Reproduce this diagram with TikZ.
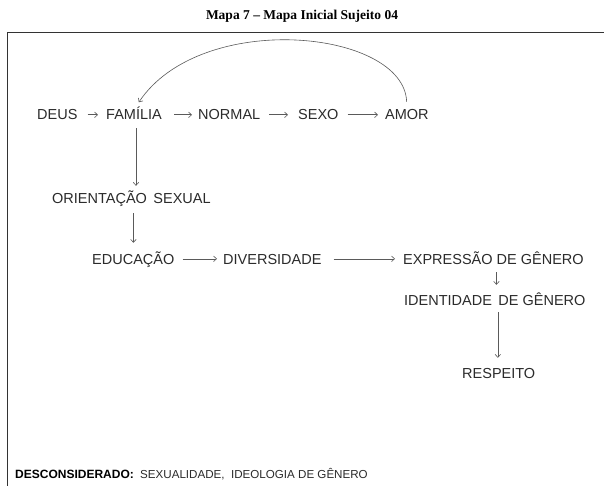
\documentclass[tikz,border=0pt]{standalone}
\usepackage{fontspec}
\setmainfont{Liberation Serif}
\newfontfamily\arialf{Liberation Sans}
\usetikzlibrary{arrows.meta}
\definecolor{txt}{HTML}{2B2B2B}
\definecolor{arrc}{HTML}{5A5A5A}
\definecolor{framec}{HTML}{333333}
\begin{document}
\begin{tikzpicture}[x=1pt,y=-1pt,
  lbl/.style={font=\arialf\fontsize{14.5}{16}\selectfont, text=txt, inner sep=0pt,
    text height=10.4pt, text depth=0pt, anchor=base west},
  conn/.style={draw=arrc, line width=0.6pt, -{Straight Barb[length=3pt,width=5.5pt]}},
  ttl/.style={font=\bfseries\fontsize{13.5}{15}\selectfont, text=black, inner sep=0pt, anchor=base},
  foot/.style={font=\arialf\bfseries\fontsize{12}{14}\selectfont, text=black, inner sep=0pt, anchor=base west},
  footr/.style={font=\arialf\fontsize{11.6}{14}\selectfont, text=txt, inner sep=0pt, anchor=base west}
]
\useasboundingbox (0,0) rectangle (604,486);
\fill[white] (0,0) rectangle (604,486);
% title
\node[ttl] (title) at (302,20) {Mapa 7 – Mapa Inicial Sujeito 04};
% frame
\draw[draw=framec, line width=1.3pt] (7.5,486) -- (7.5,32.5) -- (604,32.5);
% row 1
\node[lbl] (deus) at (37,120) {DEUS};
\node[lbl] (fam) at (106,120) {FAMÍLIA};
\node[lbl] (norm) at (198,120) {NORMAL};
\node[lbl] (sexo) at (298,120) {SEXO};
\node[lbl] (amor) at (385,120) {AMOR};
\node[lbl] (ori) at (52,204) {ORIENTAÇÃO\ \,SEXUAL};
\node[lbl] (edu) at (92,264) {EDUCAÇÃO};
\node[lbl] (div) at (223,264) {DIVERSIDADE};
\node[lbl] (exp) at (403,264) {EXPRESSÃO DE GÊNERO};
\node[lbl] (ide) at (404,305) {IDENTIDADE\ \,DE GÊNERO};
\node[lbl] (res) at (462,378) {RESPEITO};
% footer
\node[foot] (des) at (15,478) {DESCONSIDERADO:};
\node[footr] (sex) at (140,478) {SEXUALIDADE,\ \ IDEOLOGIA DE GÊNERO};
% horizontal connectors
\draw[conn, shorten <=10pt, shorten >=8pt] (deus.east) -- (fam.west);
\draw[conn, shorten <=12pt, shorten >=6pt] (fam.east) -- (norm.west);
\draw[conn, shorten <=9pt, shorten >=10pt] (norm.east) -- (sexo.west);
\draw[conn, shorten <=9pt, shorten >=7pt] (sexo.east) -- (amor.west);
\draw[conn, shorten <=8pt, shorten >=6pt] (edu.east) -- (div.west);
\draw[conn, shorten <=12pt, shorten >=8pt] (div.east) -- (exp.west);
% vertical connectors
\draw[conn, shorten <=8pt, shorten >=7.6pt] ([xshift=2pt]fam.south) -- ([xshift=2pt]fam.south |- ori.north);
\draw[conn, shorten <=9pt, shorten >=10.6pt] ([xshift=2pt]ori.south) -- ([xshift=2pt]ori.south |- edu.north);
\draw[conn, shorten <=8pt, shorten >=9.6pt] ([xshift=3pt]exp.south) -- ([xshift=3pt]exp.south |- ide.north);
\draw[conn, shorten <=7pt, shorten >=9.6pt] ([xshift=3pt]ide.south) -- ([xshift=3pt]ide.south |- res.north);
% arc
\draw[conn, shorten <=7.6pt, shorten >=8.6pt] (amor.north) .. controls +(-3,-80) and +(67,-100) .. (fam.north);
\end{tikzpicture}
\end{document}
